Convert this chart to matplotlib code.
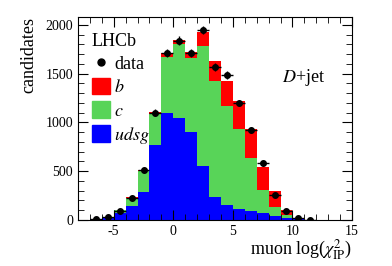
import numpy as np
import matplotlib.pyplot as plt
from matplotlib.patches import Patch
from matplotlib.lines import Line2D

plt.rcParams['font.family'] = ['Liberation Serif', 'DejaVu Serif']
plt.rcParams['mathtext.fontset'] = 'stix'
plt.rcParams['axes.unicode_minus'] = False

# bins of width 1 from -8 to 15
edges = np.arange(-8, 16, 1)

# template contributions (stacked: udsg, c, b)
udsg = [3, 7, 22, 70, 140, 290, 770, 1095, 1050, 905, 550, 240, 150, 108, 90, 70, 40, 25, 8, 2, 2, 2, 2]
charm = [1, 2, 8, 28, 88, 215, 320, 580, 750, 750, 1230, 1180, 1020, 820, 545, 235, 92, 24, 3, 1, 0, 0, 0]
beauty = [0, 0, 1, 3, 5, 8, 15, 40, 45, 70, 150, 205, 250, 295, 300, 237, 160, 50, 6, 1, 0, 0, 0]

# data points
data_x = [-6.5, -5.5, -4.5, -3.5, -2.5, -1.5, -0.5, 0.5, 1.5, 2.5, 3.5, 4.5, 5.5, 6.5, 7.5, 8.5, 9.5, 10.5, 11.5]
data_y = [10, 28, 92, 224, 510, 1100, 1707, 1839, 1714, 1947, 1570, 1484, 1199, 919, 581, 259, 92, 16, 2]

col_b = '#ff0000'
col_c = '#58d458'
col_l = '#0000ff'

fig = plt.figure(figsize=(3.92, 2.66), dpi=100)
ax = fig.add_axes([0.199, 0.173, 0.699, 0.763])

udsg = np.array(udsg, float)
charm = np.array(charm, float)
beauty = np.array(beauty, float)

ax.stairs(udsg, edges, baseline=0, fill=True, color=col_l, lw=0)
ax.stairs(udsg + charm, edges, baseline=udsg, fill=True, color=col_c, lw=0)
ax.stairs(udsg + charm + beauty, edges, baseline=udsg + charm, fill=True, color=col_b, lw=0)

dy = np.sqrt(np.array(data_y, float))
ax.errorbar(data_x, data_y, xerr=0.5, yerr=dy, fmt='o', color='k', ms=4, lw=1, capsize=0, zorder=5)

ax.set_xlim(-8, 15)
ax.set_ylim(0, 2080)
ax.set_xticks([-5, 0, 5, 10, 15])
ax.set_xticks(np.arange(-8, 16, 1), minor=True)
ax.set_yticks([0, 500, 1000, 1500, 2000])
ax.set_yticks(np.arange(0, 2100, 100), minor=True)
ax.tick_params(which='both', direction='in', top=True, right=True, labelsize=10)
ax.tick_params(which='major', length=7)
ax.tick_params(which='minor', length=4)

ax.set_xlabel(r'muon log($\chi^2_{\rm IP}$)', fontsize=13, loc='right', labelpad=0)
ax.set_ylabel('candidates', fontsize=13, loc='top', labelpad=6)

handles = [Line2D([], [], marker='o', color='k', ls='none', ms=5),
           Patch(color=col_b), Patch(color=col_c), Patch(color=col_l)]
labels = ['data', '$b$', '$c$', '$udsg$']
leg = ax.legend(handles, labels, title='LHCb', loc='upper left', bbox_to_anchor=(0.004, 0.985),
                frameon=False, fontsize=13, title_fontsize=13, handlelength=1.0,
                handleheight=1.0, handletextpad=0.25, labelspacing=0.28, borderaxespad=0.3,
                alignment='left')

ax.text(0.745, 0.70, '$D$+jet', transform=ax.transAxes, fontsize=13, va='center')

fig.savefig('out.png', dpi=100)
